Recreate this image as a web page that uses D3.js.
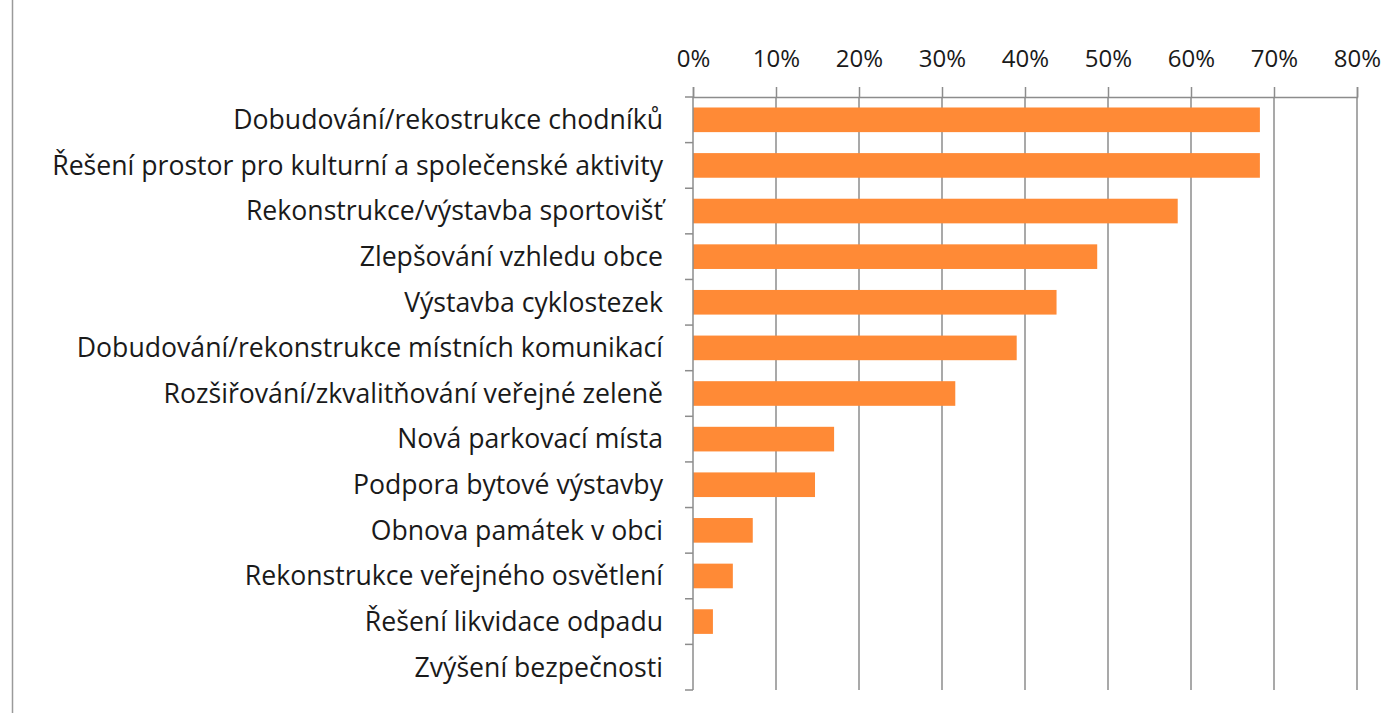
<!DOCTYPE html>
<html>
<head>
<meta charset="utf-8">
<script src="https://cdn.jsdelivr.net/npm/d3@7"></script>
<style>
  body { margin: 0; background: #fff; }
  svg { display: block; }
</style>
</head>
<body>
<div id="chart"></div>
<script>
const categories = [
    "Dobudování/rekostrukce chodníků",
    "Řešení prostor pro kulturní a společenské aktivity",
    "Rekonstrukce/výstavba sportovišť",
    "Zlepšování vzhledu obce",
    "Výstavba cyklostezek",
    "Dobudování/rekonstrukce místních komunikací",
    "Rozšiřování/zkvalitňování veřejné zeleně",
    "Nová parkovací místa",
    "Podpora bytové výstavby",
    "Obnova památek v obci",
    "Rekonstrukce veřejného osvětlení",
    "Řešení likvidace odpadu",
    "Zvýšení bezpečnosti"
];
const values = [0.683, 0.683, 0.584, 0.487, 0.438, 0.39, 0.316, 0.17, 0.147, 0.072, 0.048, 0.024, 0];
const xTicks = [0, 0.1, 0.2, 0.3, 0.4, 0.5, 0.6, 0.7, 0.8];

const fullWidth = 1389, fullHeight = 713;
const margin = { top: 97, right: 32, bottom: 23, left: 693 };
const width = fullWidth - margin.left - margin.right;
const height = fullHeight - margin.top - margin.bottom;
const font = "'Open Sans', sans-serif";

const root = d3.select("#chart")
    .append("svg")
    .attr("width", fullWidth)
    .attr("height", fullHeight);

// frame line on the left
root.append("line")
    .attr("x1", 12.5).attr("x2", 12.5)
    .attr("y1", 0).attr("y2", fullHeight)
    .attr("stroke", "#9a9a9a")
    .attr("stroke-width", 1.5);

const svg = root.append("g")
    .attr("transform", `translate(${margin.left},${margin.top})`);

const x = d3.scaleLinear().domain([0, 0.8]).range([0, width]);
const y = d3.scaleBand().domain(categories).range([0, height]).paddingInner(0.46).paddingOuter(0.23);

// vertical grid
svg.append("g")
    .selectAll("line")
    .data(xTicks.slice(1))
    .enter()
    .append("line")
    .attr("x1", d => x(d)).attr("x2", d => x(d))
    .attr("y1", 0).attr("y2", height)
    .attr("stroke", "#8c8c8c")
    .attr("stroke-width", 1.5);

// top axis
const xAxis = svg.append("g")
    .call(d3.axisTop(x).tickValues(xTicks).tickFormat(d3.format(".0%")).tickSize(10).tickPadding(20));
xAxis.select(".domain").attr("stroke", "#8c8c8c").attr("stroke-width", 1.5);
xAxis.selectAll(".tick line").attr("stroke", "#8c8c8c").attr("stroke-width", 1.5);
const tickText = xAxis.selectAll("text")
    .style("font-family", font)
    .style("font-size", "23px")
    .attr("fill", "#1a1a1a");

// bars
svg.selectAll(".bar")
    .data(values)
    .enter()
    .append("rect")
    .attr("class", "bar")
    .attr("x", 0)
    .attr("y", (d, i) => y(categories[i]))
    .attr("width", d => x(d))
    .attr("height", y.bandwidth())
    .attr("fill", "#ff8a36");

// left axis with category boundaries as ticks
const yAxis = svg.append("g");
yAxis.append("line")
    .attr("x1", 0).attr("x2", 0).attr("y1", 0).attr("y2", height)
    .attr("stroke", "#8c8c8c").attr("stroke-width", 1.5);
yAxis.selectAll(".ytick")
    .data(d3.range(categories.length + 1))
    .enter()
    .append("line")
    .attr("x1", -8).attr("x2", 0)
    .attr("y1", i => i * height / categories.length)
    .attr("y2", i => i * height / categories.length)
    .attr("stroke", "#8c8c8c").attr("stroke-width", 1.5);

const labels = yAxis.selectAll(".ylabel")
    .data(categories)
    .enter()
    .append("text")
    .attr("x", -30)
    .attr("y", d => y(d) + y.bandwidth() / 2)
    .attr("dy", "0.35em")
    .attr("text-anchor", "end")
    .style("font-family", font)
    .style("font-size", "24px")
    .attr("fill", "#1a1a1a")
    .text(d => d);

// fit font so the longest label spans like in the original (~611px)
let longest = 0;
labels.each(function() { longest = Math.max(longest, this.getComputedTextLength()); });
const fs = 24 * 611 / longest;
labels.style("font-size", fs + "px");
tickText.style("font-size", Math.min(fs, 24) + "px");
</script>
</body>
</html>
